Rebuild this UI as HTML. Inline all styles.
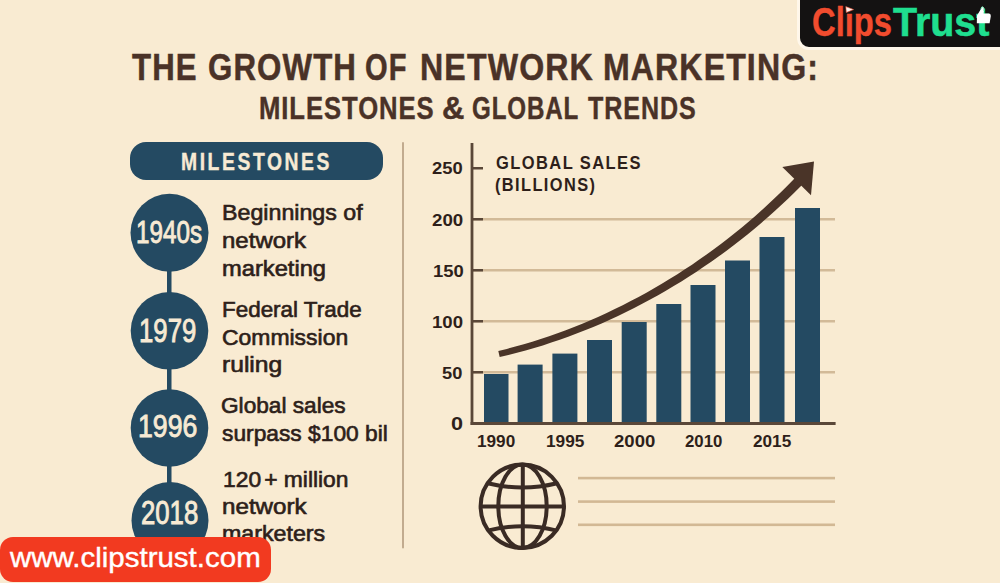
<!DOCTYPE html>
<html><head><meta charset="utf-8">
<style>
html,body{margin:0;padding:0;}
body{width:1000px;height:583px;overflow:hidden;background:#F9EBD2;position:relative;font-family:"Liberation Sans",sans-serif;}
.t{position:absolute;white-space:nowrap;line-height:1;transform-origin:0 0;}
.title{font-weight:bold;color:#4A3227;}
.desc{color:#2E1F1A;}
.yr{color:#F7EAD4;}
.ax{color:#2E1F1A;font-weight:bold;}
.lg{font-weight:bold;}
svg{position:absolute;left:0;top:0;}
</style></head><body>
<svg width="1000" height="583" viewBox="0 0 1000 583">
  <rect x="402" y="142" width="2" height="406.5" rx="1" fill="#C2AB8F"/>
  <rect x="130" y="142" width="253" height="38" rx="16" fill="#244A62"/>
  <rect x="167" y="260" width="4.5" height="260" fill="#244A62"/>
  <circle cx="169.5" cy="232.8" r="39" fill="#244A62"/>
  <circle cx="169.5" cy="330.8" r="38.8" fill="#244A62"/>
  <circle cx="169.5" cy="428" r="38.8" fill="#244A62"/>
  <circle cx="170" cy="520.5" r="38.5" fill="#244A62"/>
  <g fill="#D2BA98">
    <rect x="472" y="218" width="363" height="2.5"/>
    <rect x="472" y="269" width="363" height="2.5"/>
    <rect x="472" y="320" width="363" height="2.5"/>
    <rect x="472" y="371" width="363" height="2.5"/>
  </g>
  <g fill="#5A4738">
    <rect x="472" y="167" width="11" height="2.5"/>
    <rect x="472" y="218" width="11" height="2.5"/>
    <rect x="472" y="269" width="11" height="2.5"/>
    <rect x="472" y="320" width="11" height="2.5"/>
    <rect x="472" y="371" width="11" height="2.5"/>
    <rect x="470.6" y="143" width="2.8" height="282"/>
    <rect x="470.6" y="422" width="365" height="3"/>
  </g>
  <g fill="#244A62">
    <rect x="484" y="374" width="24.5" height="48"/>
    <rect x="517.6" y="364.6" width="25" height="57.4"/>
    <rect x="552.4" y="353.6" width="25" height="68.4"/>
    <rect x="587" y="340" width="25" height="82"/>
    <rect x="621.7" y="322" width="25" height="100"/>
    <rect x="656.3" y="304" width="25" height="118"/>
    <rect x="690.5" y="285" width="25" height="137"/>
    <rect x="725" y="260.5" width="25" height="161.5"/>
    <rect x="759.5" y="237" width="25" height="185"/>
    <rect x="795" y="208" width="25" height="214"/>
  </g>
  <path d="M499.7,357.0 L508.4,355.0 L517.0,352.8 L525.6,350.5 L534.2,348.0 L542.8,345.4 L551.3,342.6 L559.8,339.8 L568.2,336.7 L576.6,333.6 L585.0,330.3 L593.3,326.9 L601.6,323.4 L609.8,319.7 L618.0,315.9 L626.1,312.0 L634.2,308.0 L642.2,303.8 L650.2,299.6 L658.1,295.2 L665.9,290.7 L673.7,286.1 L681.4,281.4 L689.1,276.6 L696.6,271.7 L704.1,266.6 L711.6,261.5 L718.9,256.3 L726.2,251.0 L733.4,245.5 L740.5,240.0 L747.5,234.4 L754.5,228.7 L761.3,222.9 L768.1,217.1 L774.8,211.1 L781.3,205.0 L787.8,198.9 L794.2,192.7 L800.5,186.4 L805.4,181.4 L798.4,174.6 L793.5,179.6 L787.4,185.8 L781.1,192.0 L774.8,198.1 L768.4,204.1 L761.9,210.1 L755.3,215.9 L748.6,221.7 L741.8,227.4 L734.9,233.0 L728.0,238.5 L720.9,243.9 L713.8,249.3 L706.6,254.5 L699.3,259.6 L692.0,264.7 L684.5,269.6 L677.0,274.4 L669.5,279.1 L661.8,283.8 L654.1,288.3 L646.4,292.7 L638.6,297.0 L630.7,301.1 L622.7,305.2 L614.8,309.1 L606.7,313.0 L598.6,316.7 L590.5,320.3 L582.3,323.7 L574.1,327.0 L565.8,330.2 L557.5,333.3 L549.1,336.2 L540.7,339.0 L532.3,341.7 L523.8,344.2 L515.4,346.6 L506.8,348.9 L498.3,351.0Z" fill="#4A3428"/>
  <polygon points="814,161.5 782.3,167 811,195.2" fill="#4A3428"/>
  <g fill="none" stroke="#3A2B24" stroke-width="4">
    <circle cx="522.3" cy="506.3" r="41.7"/>
    <ellipse cx="522.5" cy="506.3" rx="24.2" ry="41.7"/>
    <line x1="522.8" y1="464" x2="522.8" y2="548"/>
    <line x1="480.5" y1="506.5" x2="564" y2="506.5"/>
    <path d="M487.6,483.3 Q522.3,491.8 557,483.3"/>
    <path d="M487.6,530.6 Q522.3,522 557,530.6"/>
  </g>
  <g fill="#D2B894">
    <rect x="578" y="476.8" width="257" height="2.6"/>
    <rect x="578" y="500.3" width="257" height="2.6"/>
    <rect x="578" y="523.5" width="257" height="2.6"/>
  </g>
</svg>
<div id="logobox" style="position:absolute;left:797px;top:-20px;width:230px;height:64px;background:#141212;border:3px solid #FFF7EA;border-radius:12px;z-index:5;"></div>
<div id="banner" style="position:absolute;left:0;top:537.4px;width:271px;height:44.5px;background:#F23A20;border-radius:13px;z-index:5;"></div>
<svg style="z-index:7" width="1000" height="583" viewBox="0 0 1000 583">
  <polygon points="845.8,6.6 853.6,9.6 846.3,12.6" fill="#FFF4EE" stroke="#F04D30" stroke-width="0.6"/>
  <path d="M977,15.5 L980.8,9.2 Q981.3,6.4 983,6.9 Q984.6,7.8 983.6,13.4 L989.2,13.4 Q991.2,13.8 990.8,16.2 L989.6,23.2 L976.8,23.2 Z" fill="#FFFFFF"/>
  <path d="M981,9 Q981.3,6.4 983,6.9 Q984.6,7.8 983.8,11" fill="none" stroke="#7FE9B8" stroke-width="1"/>
</svg>

<div class="t title" id="t1_0" style="left:132.00px;top:49.00px;font-size:37.12px;transform:scaleX(0.8400);letter-spacing:1.3px;-webkit-text-stroke:0.5px #4A3227;">THE</div>
<div class="t title" id="t1_1" style="left:207.60px;top:49.00px;font-size:37.12px;transform:scaleX(0.8427);letter-spacing:1.3px;-webkit-text-stroke:0.5px #4A3227;">GROWTH</div>
<div class="t title" id="t1_2" style="left:365.40px;top:49.00px;font-size:37.12px;transform:scaleX(0.7834);letter-spacing:1.3px;-webkit-text-stroke:0.5px #4A3227;">OF</div>
<div class="t title" id="t1_3" style="left:420.10px;top:49.00px;font-size:37.12px;transform:scaleX(0.8663);letter-spacing:1.3px;-webkit-text-stroke:0.5px #4A3227;">NETWORK</div>
<div class="t title" id="t1_4" style="left:603.00px;top:49.00px;font-size:37.12px;transform:scaleX(0.8638);letter-spacing:1.3px;-webkit-text-stroke:0.5px #4A3227;">MARKETING:</div>
<div class="t title" id="t2_0" style="left:259.00px;top:94.00px;font-size:30.70px;transform:scaleX(0.8364);letter-spacing:1.1px;-webkit-text-stroke:0.4px #4A3227;">MILESTONES</div>
<div class="t title" id="t2_1" style="left:441.60px;top:94.00px;font-size:30.70px;transform:scaleX(1.0122);letter-spacing:1.1px;-webkit-text-stroke:0.4px #4A3227;">&amp;</div>
<div class="t title" id="t2_2" style="left:472.20px;top:94.00px;font-size:30.70px;transform:scaleX(0.7871);letter-spacing:1.1px;-webkit-text-stroke:0.4px #4A3227;">GLOBAL</div>
<div class="t title" id="t2_3" style="left:587.70px;top:94.00px;font-size:30.70px;transform:scaleX(0.8177);letter-spacing:1.1px;-webkit-text-stroke:0.4px #4A3227;">TRENDS</div>
<div class="t " id="ms" style="left:181.20px;top:151.00px;font-size:23.74px;transform:scaleX(0.8124);font-weight:bold;color:#F7EAD4;letter-spacing:3.2px;-webkit-text-stroke:0.4px #F7EAD4;">MILESTONES</div>
<div class="t yr" id="y1" style="left:136.00px;top:217.40px;font-size:31.64px;transform:scaleX(0.7660);-webkit-text-stroke:0.9px #F7EAD4;">1940s</div>
<div class="t yr" id="y2" style="left:139.00px;top:314.50px;font-size:32.79px;transform:scaleX(0.7851);-webkit-text-stroke:0.9px #F7EAD4;">1979</div>
<div class="t yr" id="y3" style="left:138.00px;top:411.30px;font-size:31.77px;transform:scaleX(0.8394);-webkit-text-stroke:0.9px #F7EAD4;">1996</div>
<div class="t yr" id="y4" style="left:141.00px;top:496.00px;font-size:33.23px;transform:scaleX(0.7742);-webkit-text-stroke:0.9px #F7EAD4;">2018</div>
<div class="t desc" id="d1a" style="left:222.00px;top:202.00px;font-size:22.50px;transform:scaleX(1.0319);-webkit-text-stroke:0.65px #2E1F1A;">Beginnings of</div>
<div class="t desc" id="d1b" style="left:222.00px;top:230.00px;font-size:22.50px;transform:scaleX(1.0675);-webkit-text-stroke:0.65px #2E1F1A;">network</div>
<div class="t desc" id="d1c" style="left:222.00px;top:258.00px;font-size:22.50px;transform:scaleX(1.0532);-webkit-text-stroke:0.65px #2E1F1A;">marketing</div>
<div class="t desc" id="d2a" style="left:222.00px;top:299.00px;font-size:22.50px;transform:scaleX(0.9966);-webkit-text-stroke:0.65px #2E1F1A;">Federal Trade</div>
<div class="t desc" id="d2b" style="left:221.90px;top:327.00px;font-size:22.50px;transform:scaleX(1.0192);-webkit-text-stroke:0.65px #2E1F1A;">Commission</div>
<div class="t desc" id="d2c" style="left:222.00px;top:354.00px;font-size:22.50px;transform:scaleX(1.0946);-webkit-text-stroke:0.65px #2E1F1A;">ruling</div>
<div class="t desc" id="d3a" style="left:221.40px;top:395.00px;font-size:22.50px;transform:scaleX(1.0064);-webkit-text-stroke:0.65px #2E1F1A;">Global sales</div>
<div class="t desc" id="d3b" style="left:222.20px;top:423.00px;font-size:22.50px;transform:scaleX(1.0122);-webkit-text-stroke:0.65px #2E1F1A;">surpass $100 bil</div>
<div class="t desc" id="d4a" style="left:223.20px;top:469.00px;font-size:22.50px;transform:scaleX(1.0143);-webkit-text-stroke:0.65px #2E1F1A;">120<span style="margin-left:3px">+</span> million</div>
<div class="t desc" id="d4b" style="left:222.00px;top:496.00px;font-size:22.50px;transform:scaleX(1.0744);-webkit-text-stroke:0.65px #2E1F1A;">network</div>
<div class="t desc" id="d4c" style="left:222.00px;top:523.00px;font-size:22.50px;transform:scaleX(1.0311);-webkit-text-stroke:0.65px #2E1F1A;">marketers</div>
<div class="t ax" id="a250" style="left:431.80px;top:160.00px;font-size:17.40px;transform:scaleX(1.0576);">250</div>
<div class="t ax" id="a200" style="left:431.80px;top:212.00px;font-size:17.40px;transform:scaleX(1.0771);">200</div>
<div class="t ax" id="a150" style="left:432.60px;top:263.00px;font-size:17.40px;transform:scaleX(1.0594);">150</div>
<div class="t ax" id="a100" style="left:432.00px;top:314.00px;font-size:17.40px;transform:scaleX(1.0692);">100</div>
<div class="t ax" id="a50" style="left:442.20px;top:365.00px;font-size:17.40px;transform:scaleX(1.0512);">50</div>
<div class="t ax" id="a0" style="left:451.20px;top:414.00px;font-size:19.20px;transform:scaleX(1.1260);">0</div>
<div class="t ax" id="x1990" style="left:477.00px;top:433.00px;font-size:17.40px;transform:scaleX(0.9871);">1990</div>
<div class="t ax" id="x1995" style="left:546.00px;top:433.00px;font-size:17.40px;transform:scaleX(0.9931);">1995</div>
<div class="t ax" id="x2000" style="left:614.00px;top:433.00px;font-size:17.40px;transform:scaleX(1.0678);">2000</div>
<div class="t ax" id="x2010" style="left:685.00px;top:433.00px;font-size:17.40px;transform:scaleX(0.9670);">2010</div>
<div class="t ax" id="x2015" style="left:753.00px;top:433.00px;font-size:17.40px;transform:scaleX(0.9878);">2015</div>
<div class="t ax" id="gs" style="left:495.80px;top:155.00px;font-size:17.50px;transform:scaleX(0.9425);letter-spacing:1.5px;">GLOBAL SALES</div>
<div class="t ax" id="bil" style="left:494.80px;top:176.50px;font-size:17.50px;transform:scaleX(0.9353);letter-spacing:1.5px;">(BILLIONS)</div>
<div class="t lg" id="lc" style="left:811.50px;top:1.00px;font-size:41.50px;transform:scaleX(0.7889);color:#F24C2E;z-index:6;-webkit-text-stroke:0.4px #F24C2E;">Cl&#305;ps</div>
<div class="t lg" id="lt" style="left:893.00px;top:1.00px;font-size:41.50px;transform:scaleX(0.9497);color:#1FDF8F;z-index:6;-webkit-text-stroke:0.6px #1FDF8F;">Trust</div>
<div class="t " id="www" style="left:9.80px;top:542.80px;font-size:28.50px;transform:scaleX(1.0347);color:#FFFFFF;z-index:6;-webkit-text-stroke:0.4px #FFFFFF;">www.clipstrust.com</div>
</body></html>
